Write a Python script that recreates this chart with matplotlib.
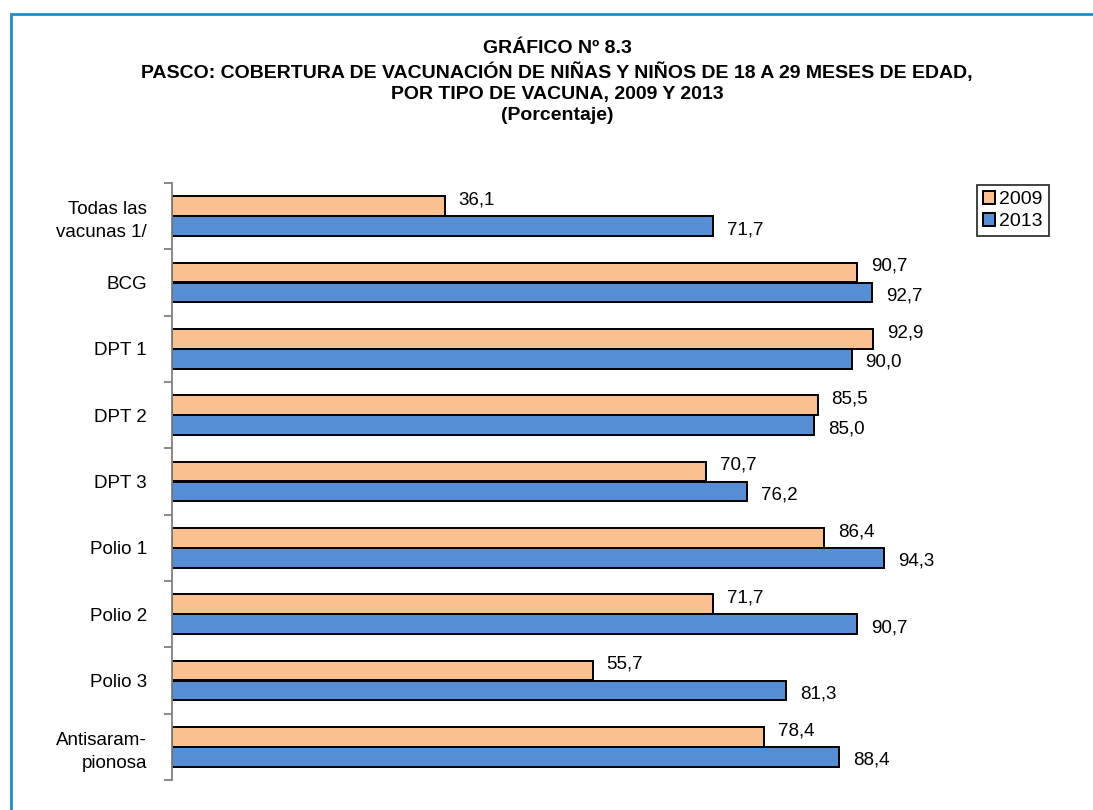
import numpy as np
import matplotlib
matplotlib.use('Agg')
import matplotlib.pyplot as plt
from matplotlib.patches import Rectangle

plt.rcParams['font.family'] = ['Liberation Sans Narrow', 'Liberation Sans', 'DejaVu Sans']

# data
categories = ['Todas las\nvacunas 1/', 'BCG', 'DPT 1', 'DPT 2', 'DPT 3',
              'Polio 1', 'Polio 2', 'Polio 3', 'Antisaram-\npionosa']
v2009 = [36.1, 90.7, 92.9, 85.5, 70.7, 86.4, 71.7, 55.7, 78.4]
v2013 = [71.7, 92.7, 90.0, 85.0, 76.2, 94.3, 90.7, 81.3, 88.4]
years = ['2009', '2013']

c09 = '#FAC090'
c13 = '#558ED5'

fig = plt.figure(figsize=(10.93, 8.1), dpi=100)
ax = fig.add_axes([172/1093, 1-780/810, 755/1093, 597/810])

y = np.arange(len(categories))
h = 0.295
ax.barh(y - 0.15, v2009, height=h, color=c09, edgecolor='black', lw=1.4, label=years[0])
ax.barh(y + 0.15, v2013, height=h, color=c13, edgecolor='black', lw=1.4, label=years[1])

for yy, v in zip(y, v2009):
    ax.annotate(f'{v:.1f}'.replace('.', ','), (v, yy - 0.15), xytext=(10, 4.5),
                textcoords='offset points', va='center', ha='left', fontsize=13.5)
for yy, v in zip(y, v2013):
    ax.annotate(f'{v:.1f}'.replace('.', ','), (v, yy + 0.15), xytext=(10, -2.5),
                textcoords='offset points', va='center', ha='left', fontsize=13.5)

ax.set_xlim(0, 100)
ax.set_ylim(len(categories) - 0.5, -0.5)
ax.set_yticks(y)
ax.set_yticklabels(categories, fontsize=13.5, linespacing=1.45)
ax.set_yticks(np.arange(len(categories) + 1) - 0.5, minor=True)
ax.tick_params(axis='y', which='major', length=0, pad=18)
ax.tick_params(axis='y', which='minor', length=6, color='#808080', width=1.3)
ax.set_xticks([])
for s in ['top', 'right', 'bottom']:
    ax.spines[s].set_visible(False)
ax.spines['left'].set_color('#808080')
ax.spines['left'].set_linewidth(1.3)

leg = ax.legend(loc='upper left', bbox_to_anchor=(977/1093, 1-185/810),
                bbox_transform=fig.transFigure, fontsize=14, frameon=True,
                fancybox=False, edgecolor='black', handlelength=0.65, handleheight=0.65,
                handletextpad=0.2, borderpad=0.3, labelspacing=0.25, borderaxespad=0)
leg.get_frame().set_linewidth(1.3)

title = ('GRÁFICO Nº 8.3\n'
         'PASCO: COBERTURA DE VACUNACIÓN DE NIÑAS Y NIÑOS DE 18 A 29 MESES DE EDAD,\n'
         'POR TIPO DE VACUNA, 2009 Y 2013\n'
         '(Porcentaje)')
fig.text(557/1093, 1-40/810, title, ha='center', va='top', fontsize=14,
         fontweight='bold', linespacing=1.32)

fig.patches.append(Rectangle((11/1093, -0.1), 1.2, 1-14/810 + 0.1, transform=fig.transFigure,
                             fill=False, edgecolor='#1B8FCB', lw=2))

fig.savefig('out.png', dpi=100)
plt.close()
